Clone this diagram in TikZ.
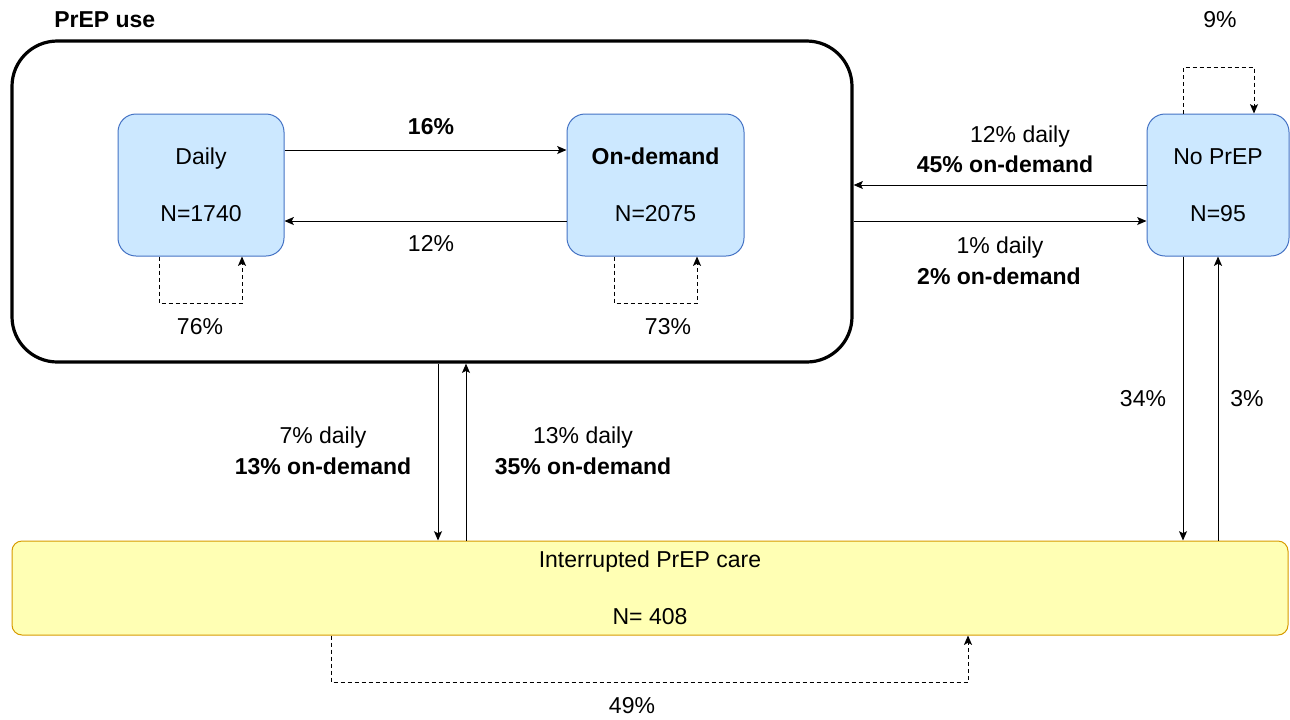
\documentclass[tikz,border=0pt]{standalone}
\usepackage{fontspec}
\setmainfont{Liberation Sans}
\usetikzlibrary{arrows.meta}
\definecolor{boxblue}{RGB}{204,232,255}
\definecolor{boxbluedraw}{RGB}{68,114,196}
\definecolor{boxyellow}{RGB}{255,255,180}
\definecolor{boxyellowdraw}{RGB}{215,155,0}
\tikzset{
  txt/.style={font=\fontsize{17.25}{21}\selectfont, align=center, inner sep=0pt},
  statebox/.style={draw=boxbluedraw, fill=boxblue, line width=0.75pt, rounded corners=13.5pt,
    minimum height=106.5pt, inner sep=0pt, align=center, font=\fontsize{17.25}{42.75}\selectfont},
  container/.style={draw=black, line width=2.4pt, rounded corners=34pt, inner sep=0pt},
  arr/.style={draw=black, line width=0.75pt, -{Stealth[length=7pt,width=6pt,inset=1.5pt]}},
  loop/.style={arr, dash pattern=on 3pt off 2.25pt},
}
\begin{document}
\begin{tikzpicture}[x=0.75pt,y=-0.75pt]
\useasboundingbox (0,0) rectangle (1290,719);
% container
\node[container, minimum width=630pt, minimum height=240.75pt] (use) at (432,201.5) {};
\node[txt, font=\fontsize{17.25}{21}\selectfont\bfseries, anchor=west] (uselbl) at (54,20) {PrEP use};
% states
\node[statebox, minimum width=124.5pt] (daily) at (201,185) {Daily\\N=1740};
\node[statebox, minimum width=132.75pt] (ond) at (655.5,185) {\textbf{On-demand}\\N=2075};
\node[statebox, minimum width=106.5pt] (nop) at (1218,185) {No PrEP\\N=95};
\node[draw=boxyellowdraw, fill=boxyellow, line width=0.75pt, rounded corners=7.5pt,
  minimum width=957pt, minimum height=70.5pt, inner sep=0pt, align=center,
  font=\fontsize{17.25}{42.75}\selectfont] (intr) at (650,588) {Interrupted PrEP care\\N= 408};
% coordinates for loops
\coordinate (dl) at (159,303);
\coordinate (dr) at (242,303);
\coordinate (ol) at (614,303);
\coordinate (or) at (697,303);
\coordinate (nl) at (1183,67);
\coordinate (nr) at (1254,67);
\coordinate (il) at (331,682);
\coordinate (ir) at (968,682);
% daily <-> on-demand
\draw[arr] (daily.east |- 0,150) -- (ond.west |- 0,150);
\node[txt, font=\fontsize{17.25}{21}\selectfont\bfseries] (l16) at (431,127) {16\%};
\draw[arr] (ond.west |- 0,221) -- (daily.east |- 0,221);
\node[txt] (l12) at (431,244) {12\%};
% self loops
\draw[loop] (daily.south -| dl) -- (dl) -- (dr) -- (daily.south -| dr);
\node[txt] (l76) at (200,327) {76\%};
\draw[loop] (ond.south -| ol) -- (ol) -- (or) -- (ond.south -| or);
\node[txt] (l73) at (668,327) {73\%};
\draw[loop] (nop.north -| nl) -- (nl) -- (nr) -- (nop.north -| nr);
\node[txt] (l9) at (1220,20) {9\%};
\draw[loop] (intr.south -| il) -- (il) -- (ir) -- (intr.south -| ir);
\node[txt] (l49) at (632,706) {49\%};
% use <-> no prep
\draw[arr] (nop.west |- 0,185) -- (use.east |- 0,185);
\node[txt] (a1) at (1020,137) {12\% daily};
\node[txt, font=\fontsize{17.25}{21}\selectfont\bfseries] (a2) at (1005,164) {45\% on-demand};
\draw[arr] (use.east |- 0,221) -- (nop.west |- 0,221);
\node[txt] (b1) at (1000,248) {1\% daily};
\node[txt, font=\fontsize{17.25}{21}\selectfont\bfseries] (b2) at (999,276) {2\% on-demand};
% use <-> interrupted
\draw[arr] (use.south -| 438,0) -- (intr.north -| 438,0);
\node[txt] (c1) at (323,438) {7\% daily};
\node[txt, font=\fontsize{17.25}{21}\selectfont\bfseries] (c2) at (323,466) {13\% on-demand};
\draw[arr] (intr.north -| 466,0) -- (use.south -| 466,0);
\node[txt] (d1) at (583,438) {13\% daily};
\node[txt, font=\fontsize{17.25}{21}\selectfont\bfseries] (d2) at (583,466) {35\% on-demand};
% no prep <-> interrupted
\draw[arr] (nop.south -| 1183,0) -- (intr.north -| 1183,0);
\node[txt] (e1) at (1143,399) {34\%};
\draw[arr] (intr.north -| 1218,0) -- (nop.south -| 1218,0);
\node[txt] (f1) at (1247,399) {3\%};
\end{tikzpicture}
\end{document}
